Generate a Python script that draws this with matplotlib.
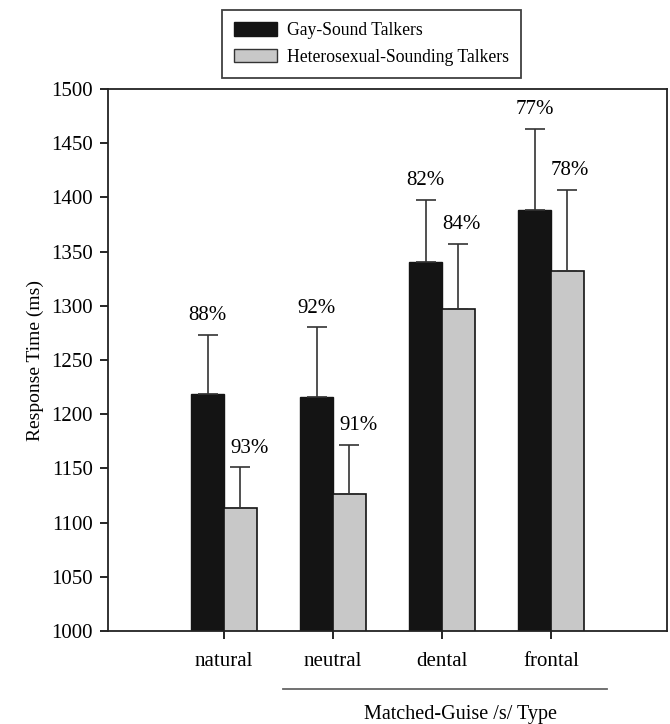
import numpy as np
import matplotlib.pyplot as plt
from matplotlib.patches import Patch

categories = ["natural", "neutral", "dental", "frontal"]
gay_rt = [1219, 1216, 1340, 1388]
gay_err = [54, 64, 58, 75]
het_rt = [1113, 1126, 1297, 1332]
het_err = [38, 46, 60, 75]
gay_pct = ["88%", "92%", "82%", "77%"]
het_pct = ["93%", "91%", "84%", "78%"]

plt.rcParams["font.family"] = ["Liberation Serif", "DejaVu Serif"]

fig = plt.figure(figsize=(6.7, 7.24), dpi=100)
ax = fig.add_axes([0.161, 0.1285, 0.8345, 0.7485])

x = np.arange(len(categories))
w = 0.30
ekw = dict(ecolor="#333333", elinewidth=1.2, capsize=7, capthick=1.2)
ax.bar(x - w / 2, gay_rt, w, color="#141414", edgecolor="#141414", linewidth=1,
       yerr=[np.zeros(4), gay_err], error_kw=ekw, zorder=2)
ax.bar(x + w / 2, het_rt, w, color="#c8c8c8", edgecolor="#141414", linewidth=1.2,
       yerr=[np.zeros(4), het_err], error_kw=ekw, zorder=2)

for i in range(len(categories)):
    ax.annotate(gay_pct[i], (x[i] - w / 2, gay_rt[i] + gay_err[i]), xytext=(0, 7),
                textcoords="offset points", ha="center", va="bottom", fontsize=15)
    ax.annotate(het_pct[i], (x[i] + w / 2, het_rt[i] + het_err[i]), xytext=(7 if i < 2 else 2, 7),
                textcoords="offset points", ha="center", va="bottom", fontsize=15)

ax.set_ylim(1000, 1500)
ax.set_xlim(-1.064, 4.064)
ax.set_yticks(range(1000, 1501, 50))
ax.set_xticks(x)
ax.set_xticklabels(categories)
ax.tick_params(axis="both", labelsize=15, length=6, width=1.2, direction="out")
ax.tick_params(axis="y", pad=5)
ax.tick_params(axis="x", pad=9)
for s in ax.spines.values():
    s.set_linewidth(1.3)
    s.set_color("#222222")
ax.set_ylabel("Response Time (ms)", fontsize=14, labelpad=5)

# grouping line under the matched-guise types
ax.plot([0.54, 3.51], [-0.107, -0.107], color="#666666", lw=1.3,
        transform=ax.get_xaxis_transform(), clip_on=False)
ax.text(2.17, -0.155, "Matched-Guise /s/ Type", transform=ax.get_xaxis_transform(),
        ha="center", va="center", fontsize=14.5)

handles = [Patch(facecolor="#141414", edgecolor="#141414"),
           Patch(facecolor="#c8c8c8", edgecolor="#333333")]
leg = fig.legend(handles, ["Gay-Sound Talkers", "Heterosexual-Sounding Talkers"],
                 loc="upper center", bbox_to_anchor=(0.5545, 0.986), fontsize=12.7,
                 fancybox=False, edgecolor="#111111", handlelength=2.45,
                 handleheight=0.8, borderpad=0.68, labelspacing=0.55,
                 handletextpad=0.6, borderaxespad=0)
leg.get_frame().set_linewidth(1.3)

fig.savefig("out.png", dpi=100)
